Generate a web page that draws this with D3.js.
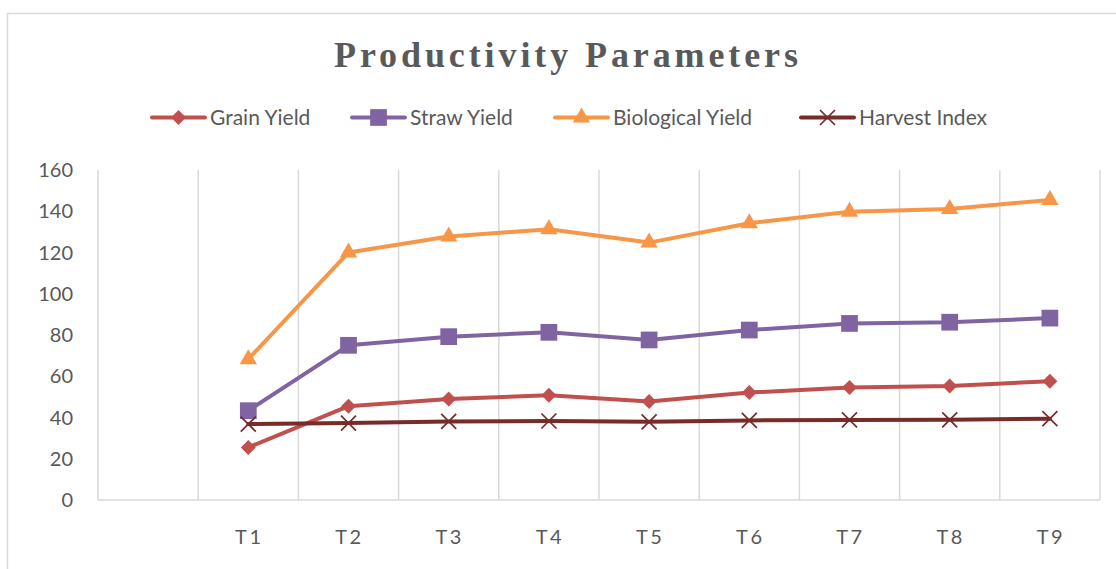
<!DOCTYPE html>
<html>
<head>
<meta charset="utf-8">
<script src="https://cdn.jsdelivr.net/npm/d3@7"></script>
<style>
  html, body { margin: 0; padding: 0; background: #fff; }
  svg { display: block; }
  .tick-label { font-family: Lato, "Open Sans", sans-serif; fill: #595959; }
</style>
</head>
<body>
<div id="chart"></div>
<script>
// categories (first slot is an empty category, like the source sheet)
const categories = ['', 'T1', 'T2', 'T3', 'T4', 'T5', 'T6', 'T7', 'T8', 'T9'];
const treatments = ['T1', 'T2', 'T3', 'T4', 'T5', 'T6', 'T7', 'T8', 'T9'];

const grainYield = [25.5, 45.5, 49.0, 50.8, 47.8, 52.1, 54.5, 55.3, 57.6];
const strawYield = [43.3, 75.0, 79.2, 81.3, 77.6, 82.4, 85.6, 86.2, 88.2];
const biologicalYield = [68.3, 120.0, 127.8, 131.3, 124.8, 134.2, 139.8, 141.1, 145.5];
const harvestIndex = [36.8, 37.3, 38.1, 38.3, 37.9, 38.6, 38.8, 38.9, 39.4];

const seriesNames = ['Grain Yield', 'Straw Yield', 'Biological Yield', 'Harvest Index'];
const yTicks = [0, 20, 40, 60, 80, 100, 120, 140, 160];

class LineChart {
    constructor(_config, _data) {
        this.config = {
            parentElement: _config.parentElement,
            containerWidth: 1116,
            containerHeight: 569,
            margin: { top: 170, right: 16, bottom: 69, left: 98 },
        };
        this.data = _data;
        this.initVis();
    }

    initVis() {
        const vis = this;
        const c = vis.config;
        c.width = c.containerWidth - c.margin.left - c.margin.right;
        c.height = c.containerHeight - c.margin.top - c.margin.bottom;

        vis.svg = d3.select(c.parentElement).append('svg')
            .attr('width', c.containerWidth)
            .attr('height', c.containerHeight);

        vis.svg.append('rect')
            .attr('width', c.containerWidth).attr('height', c.containerHeight)
            .attr('fill', '#fff');

        // chart area border (runs off the right and bottom edges)
        vis.svg.append('rect')
            .attr('x', 7.5).attr('y', 13.5)
            .attr('width', 1130).attr('height', 600)
            .attr('fill', 'none')
            .attr('stroke', '#d9d9d9')
            .attr('stroke-width', 1.5);

        vis.chart = vis.svg.append('g')
            .attr('transform', `translate(${c.margin.left},${c.margin.top})`);

        vis.xScale = d3.scaleBand().domain(categories).range([0, c.width]).padding(0);
        vis.yScale = d3.scaleLinear().domain([0, 160]).range([c.height, 0]);

        vis.updateVis();
    }

    updateVis() {
        const vis = this;
        vis.xValue = d => d.cat;
        vis.yValue = d => d.value;

        vis.lineFunc = d3.line()
            .x(d => vis.xScale(vis.xValue(d)) + vis.xScale.bandwidth() / 2)
            .y(d => vis.yScale(vis.yValue(d)));

        vis.renderVis();
    }

    renderVis() {
        const vis = this;
        const c = vis.config;
        const grid = '#d9d9d9';

        // vertical gridlines between categories
        const bounds = categories.map(k => vis.xScale(k)).concat([c.width]);
        vis.chart.selectAll('.v-grid')
            .data(bounds)
            .join('line')
            .attr('class', 'v-grid')
            .attr('x1', d => d).attr('x2', d => d)
            .attr('y1', 0).attr('y2', c.height)
            .attr('stroke', grid).attr('stroke-width', 1.5);

        // x axis line
        vis.chart.append('line')
            .attr('x1', 0).attr('x2', c.width)
            .attr('y1', c.height).attr('y2', c.height)
            .attr('stroke', grid).attr('stroke-width', 1.5);

        // y tick labels
        vis.chart.selectAll('.y-label')
            .data(yTicks)
            .join('text')
            .attr('class', 'y-label tick-label')
            .attr('x', -25)
            .attr('y', d => vis.yScale(d))
            .attr('dy', '0.36em')
            .attr('text-anchor', 'end')
            .attr('font-size', 20)
            .text(d => d);

        // x tick labels
        vis.chart.selectAll('.x-label')
            .data(treatments)
            .join('text')
            .attr('class', 'x-label tick-label')
            .attr('x', d => vis.xScale(d) + vis.xScale.bandwidth() / 2 + 1)
            .attr('y', c.height + 44)
            .attr('text-anchor', 'middle')
            .attr('font-size', 20)
            .attr('letter-spacing', 2.5)
            .text(d => d);

        // series
        vis.data.forEach(s => {
            const pts = s.values.map((v, i) => ({ cat: treatments[i], value: v }));
            const g = vis.chart.append('g').attr('class', 'series');
            g.append('path')
                .datum(pts)
                .attr('d', vis.lineFunc)
                .attr('fill', 'none')
                .attr('stroke', s.color)
                .attr('stroke-width', 4)
                .attr('stroke-linejoin', 'round')
                .attr('stroke-linecap', 'round');
            g.selectAll('.marker')
                .data(pts)
                .join('path')
                .attr('class', 'marker')
                .attr('transform', d => `translate(${vis.lineFunc.x()(d)},${vis.lineFunc.y()(d)})`)
                .call(sel => drawMarker(sel, s));
        });

        // title
        vis.svg.append('text')
            .attr('x', 566).attr('y', 67)
            .attr('text-anchor', 'middle')
            .attr('font-family', '"Liberation Serif", "DejaVu Serif", serif')
            .attr('font-weight', 'bold')
            .attr('font-size', 36)
            .attr('fill', '#595959')
            .attr('textLength', 464)
            .attr('lengthAdjust', 'spacing')
            .text('Productivity Parameters');

        // legend
        const legendX = [152, 352, 555, 801];
        const legend = vis.svg.selectAll('.legend-item')
            .data(vis.data)
            .join('g')
            .attr('class', 'legend-item')
            .attr('transform', (d, i) => `translate(${legendX[i]},117.5)`);
        legend.append('line')
            .attr('x1', 0).attr('x2', 53)
            .attr('stroke', d => d.color)
            .attr('stroke-width', 4)
            .attr('stroke-linecap', 'round');
        legend.each(function(d) {
            d3.select(this).append('path')
                .attr('transform', 'translate(26.5,0)')
                .call(sel => drawMarker(sel, d));
        });
        legend.append('text')
            .attr('class', 'tick-label')
            .attr('x', 58)
            .attr('dy', '0.36em')
            .attr('font-size', 21)
            .text(d => d.name);
    }
}

function drawMarker(sel, s) {
    if (s.shape === 'cross') {
        const r = 7.5;
        sel.attr('d', `M${-r},${-r}L${r},${r}M${-r},${r}L${r},${-r}`)
            .attr('fill', 'none')
            .attr('stroke', s.color)
            .attr('stroke-width', 1.75);
        return;
    }
    const sym = {
        diamond: d3.symbol().type(d3.symbolSquare).size(112),
        square: d3.symbol().type(d3.symbolSquare).size(280),
        triangle: d3.symbol().type(d3.symbolTriangle).size(130),
    }[s.shape];
    sel.attr('d', sym())
        .attr('fill', s.color)
        .attr('stroke', 'none');
    if (s.shape === 'diamond') {
        sel.attr('transform', function() {
            return d3.select(this).attr('transform') + ' rotate(45)';
        });
    }
}

const seriesData = [
    { name: seriesNames[0], values: grainYield, color: '#C0504D', shape: 'diamond' },
    { name: seriesNames[1], values: strawYield, color: '#8064A2', shape: 'square' },
    { name: seriesNames[2], values: biologicalYield, color: '#F79646', shape: 'triangle' },
    { name: seriesNames[3], values: harvestIndex, color: '#772C2A', shape: 'cross' },
];

new LineChart({ parentElement: '#chart' }, seriesData);
</script>
</body>
</html>
